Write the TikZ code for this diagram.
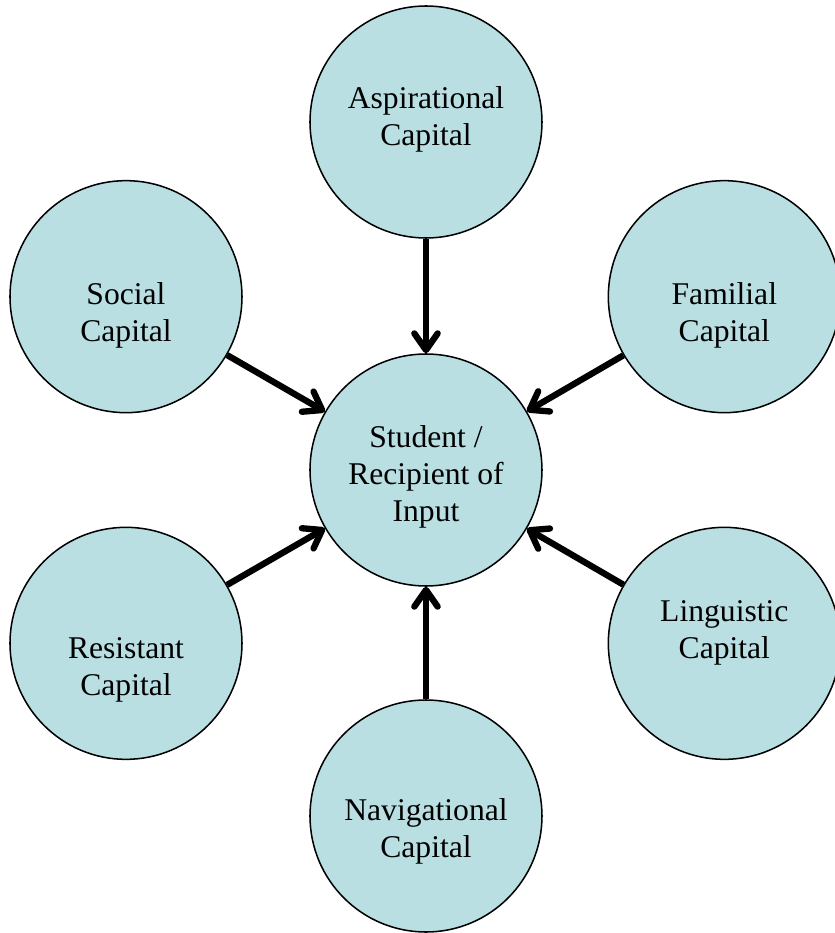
\documentclass[tikz,border=0pt]{standalone}
\usepackage{fontspec}
\setmainfont{Liberation Serif}
\usetikzlibrary{positioning, arrows.meta}
\definecolor{capfill}{HTML}{B9DFE3}
\tikzset{capnode/.style={circle,draw,fill=capfill,line width=1.3pt,minimum size=6.96cm,inner sep=0pt},
	txt/.style={align=center,font=\fontsize{27}{31.6}\selectfont},
	pt/.style={-{Straight Barb[round,length=0.5cm,width=0.7cm]},line width=5.4pt}}
\begin{document}
\begin{tikzpicture}[on grid]
			\useasboundingbox (-12.78,-13.89) rectangle (12.27,14.1);
			\node[capnode,label={[txt,yshift=-0.22cm]center:Student /\\Recipient of\\Input}] (in) at (0,0) {};
			\node[capnode,label={[txt,yshift=0.08cm]center:Aspirational\\Capital}] (asp) [above=10.44cm of in] {};
			\node[capnode,label={[txt,yshift=-0.57cm]center:Social\\Capital}] (soc) [above left=5.2cm and 9cm of in] {};
			\node[capnode,label={[txt,yshift=-0.57cm]center:Familial\\Capital}] (fam) [above right=5.2cm and 8.95cm of in] {};
			\node[capnode,label={[txt,yshift=-0.8cm]center:Resistant\\Capital}] (res) [below left=5.2cm and 9cm of in] {};
			\node[capnode,label={[txt,yshift=0.32cm]center:Linguistic\\Capital}] (lin) [below right=5.2cm and 8.95cm of in] {};
			\node[capnode,label={[txt,yshift=-0.47cm]center:Navigational\\Capital}] (nav) [below=10.38cm of in] {};
			\path[pt] 	(asp) edge (in)
						(soc) edge (in)
						(fam) edge (in)
						(res) edge (in)
						(lin) edge (in)
						(nav) edge (in);
	\end{tikzpicture}
\end{document}
